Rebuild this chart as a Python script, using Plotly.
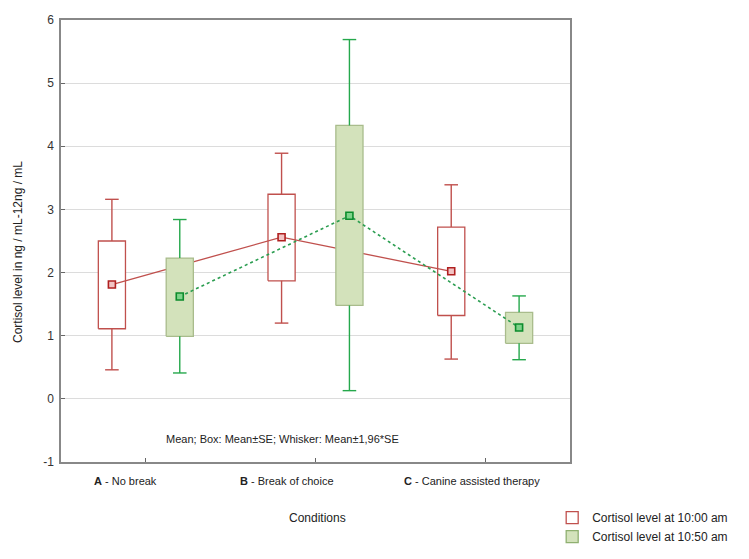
import plotly.graph_objects as go

# ---- data ----
categories = ["A", "B", "C"]
tick_labels = ["<b>A</b> - No break", "<b>B</b> - Break of choice", "<b>C</b> - Canine assisted therapy"]
series_names = ["Cortisol level at 10:00 am", "Cortisol level at 10:50 am"]

mean_1000 = [1.81, 2.56, 2.02]
se_low_1000 = [1.11, 1.87, 1.32]
se_high_1000 = [2.50, 3.24, 2.72]
wh_low_1000 = [0.46, 1.20, 0.63]
wh_high_1000 = [3.16, 3.89, 3.39]

mean_1050 = [1.62, 2.90, 1.13]
se_low_1050 = [0.99, 1.48, 0.88]
se_high_1050 = [2.23, 4.33, 1.37]
wh_low_1050 = [0.41, 0.13, 0.62]
wh_high_1050 = [2.84, 5.69, 1.63]

y_ticks = [-1, 0, 1, 2, 3, 4, 5, 6]
y_tick_labels = ["-1", "0", "1", "2", "3", "4", "5", "6"]

# ---- layout / style parameters ----
FONT = "Arial, Liberation Sans, sans-serif"
offsets = [-0.2, 0.2]
box_half = 0.08
cap_half = 0.04
label_shift = [-0.12, -0.17, -0.08]

styles = [
    dict(fill="#ffffff", box_line="#c0504d", whisk="#c0504d", legend_line="#c0504d",
         mline=dict(color="#c0504d", width=1.3, dash="solid"),
         mfill="#f2c4c4", mborder="#b02020"),
    dict(fill="#d3e2bb", box_line="#a9bc8c", whisk="#25a84c", legend_line="#8fb070",
         mline=dict(color="#2a9d50", width=1.6, dash="dot"),
         mfill="#7fd38a", mborder="#0c8c2c"),
]

series = [
    (mean_1000, se_low_1000, se_high_1000, wh_low_1000, wh_high_1000),
    (mean_1050, se_low_1050, se_high_1050, wh_low_1050, wh_high_1050),
]

fig = go.Figure()

for s, (means, lo, hi, wlo, whi) in enumerate(series):
    st = styles[s]
    xc = [i + offsets[s] for i in range(len(categories))]
    # boxes (mean +/- SE)
    bx, by = [], []
    for i, x in enumerate(xc):
        bx += [x - box_half, x + box_half, x + box_half, x - box_half, x - box_half, None]
        by += [lo[i], lo[i], hi[i], hi[i], lo[i], None]
    fig.add_trace(go.Scatter(x=bx, y=by, mode="lines", fill="toself",
                             fillcolor=st["fill"], line=dict(color=st["box_line"], width=1.3),
                             showlegend=False, hoverinfo="skip"))
    # whiskers (mean +/- 1.96 SE)
    wx, wy = [], []
    for i, x in enumerate(xc):
        wx += [x, x, None, x - cap_half, x + cap_half, None,
               x, x, None, x - cap_half, x + cap_half, None]
        wy += [hi[i], whi[i], None, whi[i], whi[i], None,
               lo[i], wlo[i], None, wlo[i], wlo[i], None]
    fig.add_trace(go.Scatter(x=wx, y=wy, mode="lines", line=dict(color=st["whisk"], width=1.4),
                             showlegend=False, hoverinfo="skip"))
    # means
    fig.add_trace(go.Scatter(x=xc, y=means, mode="lines+markers", line=st["mline"],
                             marker=dict(symbol="square", size=7, color=st["mfill"],
                                         line=dict(color=st["mborder"], width=1.6)),
                             showlegend=False))
    # legend entry (box symbol)
    fig.add_trace(go.Bar(x=[None], y=[None], name=series_names[s],
                         marker=dict(color=st["fill"], line=dict(color=st["legend_line"], width=1.3))))

# category labels
for i, t in enumerate(tick_labels):
    fig.add_annotation(x=i + label_shift[i], y=-0.025, xref="x", yref="paper", text=t,
                       showarrow=False, xanchor="center", yanchor="top",
                       font=dict(size=11, color="#222", family=FONT))

fig.add_annotation(x=0.436, y=-0.63, xref="paper", yref="y",
                   text="Mean; Box: Mean±SE; Whisker: Mean±1,96*SE", showarrow=False,
                   xanchor="center", font=dict(size=11, color="#222", family=FONT))
fig.add_annotation(x=0.503, y=-0.127, xref="paper", yref="paper", text="Conditions",
                   showarrow=False, xanchor="center", yanchor="middle",
                   font=dict(size=12, color="#222", family=FONT))
fig.add_annotation(x=-0.0845, y=0.475, xref="paper", yref="paper",
                   text="Cortisol level in ng / mL-12ng / mL", textangle=-90, showarrow=False,
                   xanchor="center", yanchor="middle",
                   font=dict(size=12, color="#222", family=FONT))

fig.update_layout(
    width=741, height=551,
    margin=dict(l=53, r=179, t=12, b=97, autoexpand=False),
    paper_bgcolor="white", plot_bgcolor="white",
    font=dict(family=FONT, size=12, color="#333"),
    showlegend=True,
    barmode="overlay",
    legend=dict(x=0.965, y=-0.093, xanchor="left", yanchor="top",
                font=dict(size=12, color="#222", family=FONT),
                bgcolor="rgba(0,0,0,0)", itemwidth=30, tracegroupgap=0),
)
fig.update_xaxes(range=[-0.5, 2.5], tickvals=[0, 1, 2], ticktext=["", "", ""],
                 ticks="inside", ticklen=4, tickcolor="#666",
                 showgrid=False, zeroline=False, showline=True, linecolor="#888",
                 linewidth=1.5, mirror=True)
fig.update_yaxes(range=[-1, 6], tickvals=y_ticks, ticktext=y_tick_labels,
                 ticks="inside", ticklen=4, tickcolor="#666",
                 showgrid=True, gridcolor="#dcdcdc", gridwidth=1, zeroline=False,
                 showline=True, linecolor="#888", linewidth=1.5, mirror=True,
                 tickfont=dict(size=12, color="#333"), ticklabelstandoff=3)

fig.write_html("out.html")
